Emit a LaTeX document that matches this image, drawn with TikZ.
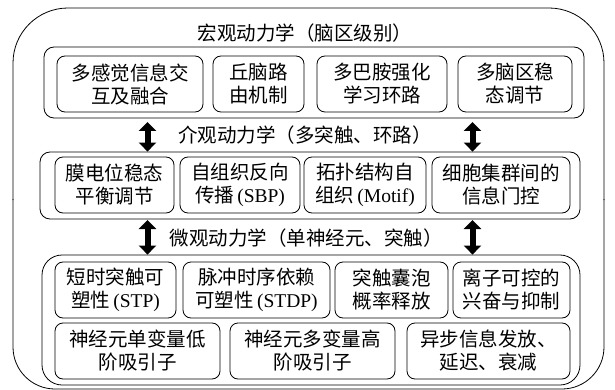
\documentclass[tikz,border=0pt]{standalone}
\usepackage{fontspec}
\setmainfont{Noto Sans CJK SC}
\newfontfamily\latin{Liberation Serif}
\usetikzlibrary{positioning, arrows.meta}

\tikzset{
  cell/.style={draw, rounded corners=8pt, line width=0.8pt, align=center, inner sep=0pt, minimum height=56pt},
  group/.style={draw, rounded corners=10pt, line width=0.8pt, inner sep=0pt},
  level/.style={inner sep=0pt},
  updown/.style={line width=6pt, {Triangle[width=17pt,length=9pt]}-{Triangle[width=17pt,length=9pt]}}
}

\begin{document}
\begin{tikzpicture}[x=1pt, y=-1pt, font=\fontsize{19.5}{23}\selectfont]
                \useasboundingbox (0,0) rectangle (615,390);
                % outer frame
                \draw[line width=0.8pt, rounded corners=55pt] (13,200) -- (13,8) -- (604,8) -- (604,200);
                \draw[line width=0.8pt, rounded corners=42pt] (13,199) -- (13,389) -- (604,389) -- (604,199);
                % group frames
                \node[group, minimum width=540pt, minimum height=71pt] (topgrp) at (314,82.5) {};
                \node[group, minimum width=540pt, minimum height=67pt] (midgrp) at (310,185.5) {};
                \node[group, rounded corners=20pt, minimum width=538pt, minimum height=130pt] (botgrp) at (311,320) {};
                % titles
                \node[level] (macro) at (305,33) {宏观动力学（脑区级别）};
                \node[level] (meso) at (305,135) {介观动力学（多突触、环路）};
                \node[level] (micro) at (306,238) {微观动力学（单神经元、突触）};
                % macro row
                \node[cell, minimum width=146pt] (a1) at (130,84) {多感觉信息交\\互及融合};
                \node[cell, minimum width=91pt] (a2) at (258.5,84) {丘脑路\\由机制};
                \node[cell, minimum width=130pt] (a3) at (382,84) {多巴胺强化\\学习环路};
                \node[cell, minimum width=114pt] (a4) at (515,84) {多脑区稳\\态调节};
                % meso row
                \node[cell, minimum width=119pt] (b1) at (114.5,185) {膜电位稳态\\平衡调节};
                \node[cell, minimum width=120pt] (b2) at (240,185) {自组织反向\\传播{\latin\,(SBP)}};
                \node[cell, minimum width=122pt] (b3) at (365,185) {拓扑结构自\\组织{\latin\,(Motif)}};
                \node[cell, minimum width=138pt] (b4) at (501,185) {细胞集群间的\\信息门控};
                % micro rows
                \node[cell, minimum width=121pt] (c1) at (115.5,290) {短时突触可\\塑性{\latin\,(STP)}};
                \node[cell, minimum width=147pt] (c2) at (256.5,290) {脉冲时序依赖\\可塑性{\latin\,(STDP)}};
                \node[cell, minimum width=113pt] (c3) at (391.5,290) {突触囊泡\\概率释放};
                \node[cell, minimum width=117pt] (c4) at (511.5,290) {离子可控的\\兴奋与抑制};
                \node[cell, minimum width=165pt] (d1) at (137.5,351) {神经元单变量低\\阶吸引子};
                \node[cell, minimum width=165pt] (d2) at (312.5,351) {神经元多变量高\\阶吸引子};
                \node[cell, minimum width=163pt] (d3) at (488.5,351) {异步信息发放、\\延迟、衰减};
                % arrows between levels
                \coordinate (l1) at (147.5,122);
                \coordinate (r1) at (472.5,122);
                \coordinate (l2) at (147.5,220);
                \coordinate (r2) at (472.5,220);
                \draw[updown] (l1) -- (l1 |- midgrp.north);
                \draw[updown] (r1) -- (r1 |- midgrp.north);
                \draw[updown] (l2) -- (l2 |- botgrp.north);
                \draw[updown] (r2) -- (r2 |- botgrp.north);
\end{tikzpicture}
\end{document}
